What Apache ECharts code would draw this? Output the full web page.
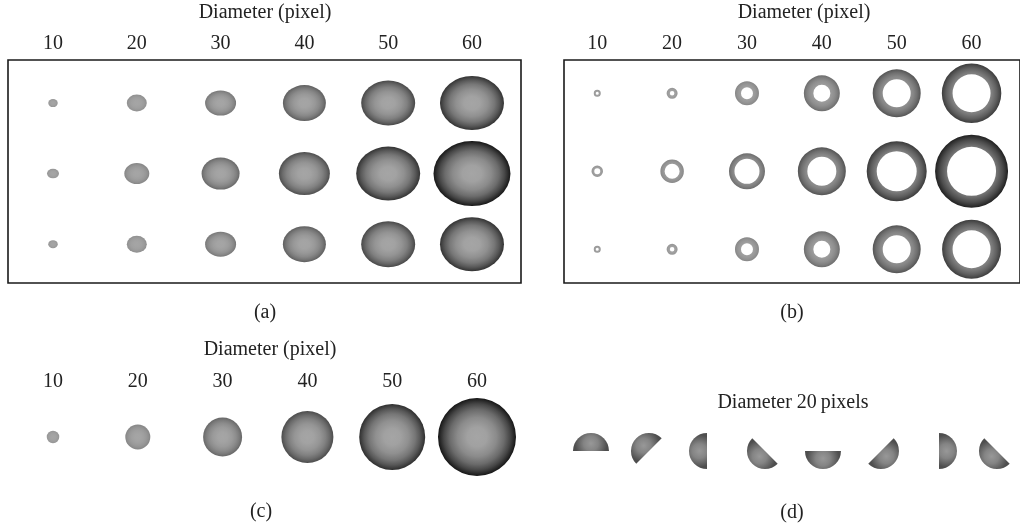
<!DOCTYPE html>
<html><head><meta charset="utf-8">
<script src="https://cdn.jsdelivr.net/npm/echarts@6/dist/echarts.min.js"></script>
<style>html,body{margin:0;padding:0;background:#fff}#c{width:1020px;height:527px}</style>
</head><body><div id="c"></div>
<script>
// ---- data ----
const diameters = [10, 20, 30, 40, 50, 60];          // nominal diameter (tick labels)
const rows = [1, 2, 3];
// panel (a): ellipse width / height (px) per row
const aRow1W = [9.5, 20, 31, 43, 54, 64];
const aRow1H = [8, 17, 25, 36, 45, 54];
const aRow2W = [12, 25, 38, 51, 64, 77];
const aRow2H = [9.5, 21, 32, 43, 54, 65];
const aRow3W = [9.5, 20, 31, 43, 54, 64];
const aRow3H = [8, 17, 25, 36, 46, 54];
// panel (b): ring outer / inner diameter (px) per row
const bRow1Outer = [7, 11, 24, 36, 48, 59.5];
const bRow1Inner = [3, 4.5, 12, 17, 28, 38];
const bRow2Outer = [11.5, 23.5, 36, 48, 60, 73];
const bRow2Inner = [6, 15, 25, 29, 40, 49];
const bRow3Outer = [7, 11, 24, 36, 48, 59];
const bRow3Inner = [3, 4.5, 12, 17, 28, 38];
// panel (c): circle diameter (px)
const cDiam = [12.5, 25, 39, 52, 66, 78];
// panel (d): half discs of diameter 20 pixels, dome direction (degrees, counter-clockwise from right)
const dIndex = [1, 2, 3, 4, 5, 6, 7, 8];
const dDomeAngle = [90, 135, 180, 225, 270, 315, 0, 225];
const dDrawnDiam = 36;

// ---- helpers ----
const FONT = '"Liberation Serif", "DejaVu Serif", serif';
function g(v) { v = Math.round(Math.max(0, Math.min(255, v))); return 'rgb(' + v + ',' + v + ',' + v + ')'; }
function stops(d) {
  const c = 165;
  const edge = Math.max(16, Math.min(148, 185 - 2.1 * d));
  const prof = [[0, 0], [0.25, 0.03], [0.5, 0.18], [0.7, 0.4], [0.85, 0.66], [1, 1]];
  return prof.map(p => ({ offset: p[0], color: g(c - (c - edge) * p[1]) }));
}

const aData = [], bData = [], cData = [], dData = [];
const aW = [aRow1W, aRow2W, aRow3W], aH = [aRow1H, aRow2H, aRow3H];
const bO = [bRow1Outer, bRow2Outer, bRow3Outer], bI = [bRow1Inner, bRow2Inner, bRow3Inner];
rows.forEach((r, ri) => diameters.forEach((d, i) => {
  aData.push([d, r, aW[ri][i], aH[ri][i]]);
  bData.push([d, r, bO[ri][i], bI[ri][i]]);
}));
diameters.forEach((d, i) => cData.push([d, 1, cDiam[i]]));
dIndex.forEach((k, i) => dData.push([k, 1, dDomeAngle[i], dDrawnDiam]));

const xBase = {
  type: 'value', position: 'top',
  axisLine: { show: false }, axisTick: { show: false }, splitLine: { show: false },
  axisLabel: { customValues: diameters, margin: 6, fontFamily: FONT, fontSize: 20, color: '#222' }
};
const yBase = { type: 'value', show: false, splitLine: { show: false } };

const option = {
  backgroundColor: '#fff',
  animation: false,
  grid: [
    { left: 8, top: 60, width: 513, height: 223, show: true, borderColor: '#1a1a1a', borderWidth: 1.6, backgroundColor: 'transparent' },
    { left: 564, top: 60, width: 480, height: 223, show: true, borderColor: '#1a1a1a', borderWidth: 1.6, backgroundColor: 'transparent' },
    { left: 10, top: 398, width: 520, height: 78 },
    { left: 540, top: 420, width: 480, height: 62 }
  ],
  xAxis: [
    Object.assign({}, xBase, { gridIndex: 0, min: 4.630, max: 65.85 }),
    Object.assign({}, xBase, { gridIndex: 1, min: 5.558, max: 66.47 }),
    Object.assign({}, xBase, { gridIndex: 2, min: 4.929, max: 66.25 }),
    Object.assign({}, xBase, { gridIndex: 3, min: 0.121, max: 8.397, axisLabel: { show: false } })
  ],
  yAxis: [
    Object.assign({}, yBase, { gridIndex: 0, inverse: true, min: 0.39, max: 3.55 }),
    Object.assign({}, yBase, { gridIndex: 1, inverse: true, min: 0.573, max: 3.432 }),
    Object.assign({}, yBase, { gridIndex: 2, min: 0, max: 2 }),
    Object.assign({}, yBase, { gridIndex: 3, min: 0, max: 2 })
  ],
  graphic: [
    ['Diameter (pixel)', 265, 13], ['Diameter (pixel)', 804, 13], ['Diameter (pixel)', 270, 350],
    ['Diameter 20\u2009pixels', 793, 403],
    ['(a)', 265, 313], ['(b)', 792, 313], ['(c)', 261, 512], ['(d)', 792, 513]
  ].map(t => ({
    type: 'text', x: t[1], y: t[2], silent: true,
    style: { text: t[0], font: '20px ' + FONT, fill: '#222', textAlign: 'center', textVerticalAlign: 'middle', align: 'center', verticalAlign: 'middle' }
  })),
  series: [
    {
      type: 'custom', xAxisIndex: 0, yAxisIndex: 0, data: aData,
      renderItem: function (params, api) {
        const p = api.coord([api.value(0), api.value(1)]);
        const w = api.value(2), h = api.value(3);
        return {
          type: 'circle', x: p[0], y: p[1], scaleY: h / w,
          shape: { cx: 0, cy: 0, r: w / 2 },
          style: { fill: new echarts.graphic.RadialGradient(0.5, 0.5, 0.5, stops(Math.max(w, h))) }
        };
      }
    },
    {
      type: 'custom', xAxisIndex: 1, yAxisIndex: 1, data: bData,
      renderItem: function (params, api) {
        const p = api.coord([api.value(0), api.value(1)]);
        const o = api.value(2), i = api.value(3);
        return {
          type: 'ring',
          shape: { cx: p[0], cy: p[1], r: o / 2, r0: i / 2 },
          style: { fill: new echarts.graphic.RadialGradient(p[0], p[1], o / 2, stops(o), true) }
        };
      }
    },
    {
      type: 'custom', xAxisIndex: 2, yAxisIndex: 2, data: cData,
      renderItem: function (params, api) {
        const p = api.coord([api.value(0), api.value(1)]);
        const d = api.value(2);
        return {
          type: 'circle',
          shape: { cx: p[0], cy: p[1], r: d / 2 },
          style: { fill: new echarts.graphic.RadialGradient(p[0], p[1], d / 2, stops(d), true) }
        };
      }
    },
    {
      type: 'custom', xAxisIndex: 3, yAxisIndex: 3, data: dData,
      renderItem: function (params, api) {
        const p = api.coord([api.value(0), api.value(1)]);
        const th = api.value(2) * Math.PI / 180;
        const r = api.value(3) / 2;
        const gx = p[0] + 0.42 * r * Math.cos(th), gy = p[1] - 0.42 * r * Math.sin(th);
        const st = [{ offset: 0, color: g(152) }, { offset: 0.45, color: g(132) }, { offset: 1, color: g(78) }];
        return {
          type: 'sector',
          shape: { cx: p[0], cy: p[1], r: r, r0: 0, startAngle: -th - Math.PI / 2, endAngle: -th + Math.PI / 2, clockwise: true },
          style: { fill: new echarts.graphic.RadialGradient(gx, gy, r * 0.9, st, true) }
        };
      }
    }
  ]
};
const chart = echarts.init(document.getElementById('c'), null, { renderer: 'canvas' });
chart.setOption(option);
</script></body></html>
